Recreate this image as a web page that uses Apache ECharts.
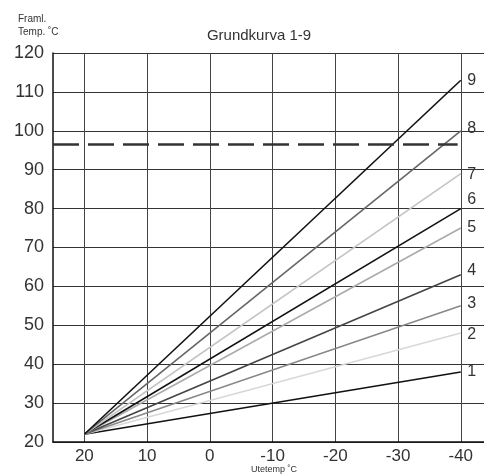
<!DOCTYPE html>
<html>
<head>
<meta charset="utf-8">
<script src="https://cdn.jsdelivr.net/npm/echarts@6/dist/echarts.min.js"></script>
<style>html,body{margin:0;padding:0;background:#fff}#c{width:484px;height:475px}</style>
</head>
<body>
<div id="c"></div>
<script>
var xTicks = [20, 10, 0, -10, -20, -30, -40];
var startPoint = [20, 22];
var curveNames = ['1', '2', '3', '4', '5', '6', '7', '8', '9'];
var curveEndX = -40;
var curveEndY = [38, 48, 55, 63, 75, 80, 89, 100, 113];
var dashedLevel = 96.5;
var dashedRange = [25, -39.5];

var curveColors = ['#111', '#d8d8d8', '#888', '#444', '#aaa', '#111', '#c4c4c4', '#666', '#111'];
var labelDy = [0, 2, -2, -4, 0, -9, 2, -2, 1];

var series = curveNames.map(function (n, i) {
  return {
    type: 'line', name: n, silent: true, symbol: 'circle', symbolSize: 1, showSymbol: true,
    itemStyle: { color: 'rgba(0,0,0,0)', borderWidth: 0 },
    lineStyle: { color: curveColors[i], width: 1.6 },
    labelLayout: { hideOverlap: false },
    data: [
      { value: startPoint },
      { value: [curveEndX, curveEndY[i]], label: { show: true, position: [7, labelDy[i]], align: 'left', verticalAlign: 'middle', formatter: n, color: '#333', fontSize: 16, fontFamily: 'Liberation Sans, Arial' } }
    ],
    z: 3
  };
});
series.push({
  type: 'line', silent: true, symbol: 'none',
  lineStyle: { color: '#333', width: 2.5, type: [26, 9] },
  data: [[dashedRange[0], dashedLevel], [dashedRange[1], dashedLevel]],
  z: 4
});

var chart = echarts.init(document.getElementById('c'), null, { renderer: 'canvas' });
chart.setOption({
  animation: false,
  backgroundColor: '#fff',
  grid: { left: 53, top: 53, right: 0, bottom: 33, containLabel: false },
  title: [
    { text: 'Grundkurva 1-9', left: 254, top: 23, textAlign: 'center', textStyle: { fontSize: 15, fontWeight: 'normal', color: '#333', fontFamily: 'Liberation Sans, Arial' } },
    { text: 'Framl.\nTemp. ˚C', left: 13, top: 8, textStyle: { fontSize: 10, fontWeight: 'normal', color: '#333', lineHeight: 13, fontFamily: 'Liberation Sans, Arial' } },
    { text: 'Utetemp ˚C', left: 274, top: 465, textAlign: 'center', textStyle: { fontSize: 9, fontWeight: 'normal', color: '#333', lineHeight: 10, fontFamily: 'Liberation Sans, Arial' }, padding: 0 }
  ],
  xAxis: {
    type: 'value', min: -43.7, max: 25, inverse: true,
    axisLine: { show: true, onZero: false, lineStyle: { color: '#111', width: 1.5 } },
    axisTick: { show: false, customValues: xTicks },
    axisLabel: { customValues: xTicks, fontSize: 17, color: '#333', margin: 6, fontFamily: 'Liberation Sans, Arial' },
    splitLine: { show: true, lineStyle: { color: '#444', width: 1 } }
  },
  yAxis: {
    type: 'value', min: 20, max: 120, interval: 10,
    axisLine: { show: true, onZero: false, lineStyle: { color: '#111', width: 1.5 } },
    axisTick: { show: false },
    axisLabel: { fontSize: 18, color: '#333', margin: 9, fontFamily: 'Liberation Sans, Arial' },
    splitLine: { show: true, lineStyle: { color: '#333', width: 1 } }
  },
  series: series
});
</script>
</body>
</html>
